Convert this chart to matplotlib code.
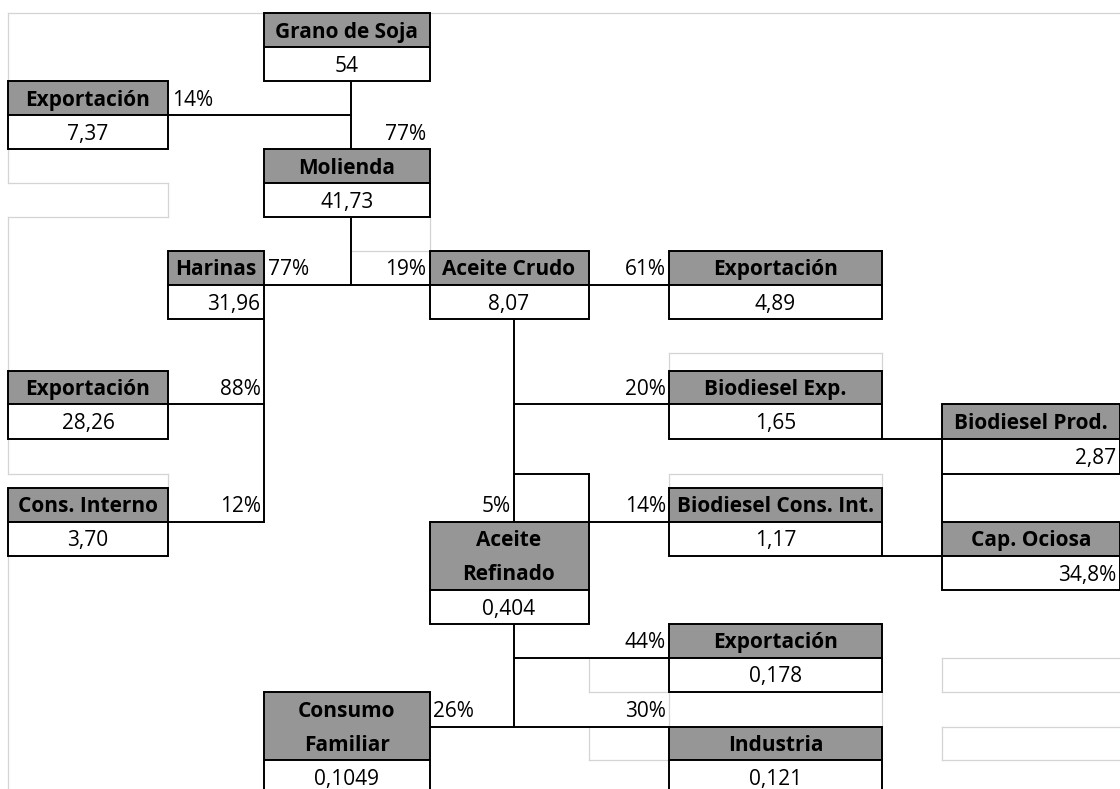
import matplotlib
matplotlib.use("Agg")
import matplotlib.pyplot as plt
from matplotlib.patches import Rectangle

plt.rcParams['font.family'] = ['Open Sans', 'DejaVu Sans']

# datos del diagrama (millones de toneladas)
node_labels = ["Grano de Soja", "Exportación", "Molienda", "Harinas", "Aceite Crudo",
               "Exportación", "Exportación", "Biodiesel Exp.", "Biodiesel Prod.",
               "Cons. Interno", "Biodiesel Cons. Int.", "Cap. Ociosa",
               "Aceite\nRefinado", "Exportación", "Consumo\nFamiliar", "Industria"]
node_values = ["54", "7,37", "41,73", "31,96", "8,07", "4,89", "28,26", "1,65", "2,87",
               "3,70", "1,17", "34,8%", "0,404", "0,178", "0,1049", "0,121"]
pct_labels = ["14%", "77%", "77%", "19%", "61%", "88%", "20%", "12%", "5%",
              "14%", "44%", "26%", "30%"]

# grilla tipo planilla (bordes de columnas y filas en pixeles)
col_x = [8, 168, 264, 351, 429.5, 514, 588.5, 669, 882, 942, 1120]
row_y = [12.7, 47.3, 80.7, 115.3, 149, 183.3, 217.3, 250.7, 285, 319.3, 353.3,
         370.7, 404, 438.5, 473.5, 487.5, 521.7, 556, 590, 624, 657.7, 691.7,
         726.7, 760, 794]

# (col ini, col fin, fila ini, filas de titulo, alineacion del valor)
node_cells = [(2, 4, 0, 1, 'center'), (0, 1, 2, 1, 'center'), (2, 4, 4, 1, 'center'),
              (1, 2, 7, 1, 'right'), (4, 6, 7, 1, 'center'), (7, 8, 7, 1, 'center'),
              (0, 1, 11, 1, 'center'), (7, 8, 11, 1, 'center'), (9, 10, 12, 1, 'right'),
              (0, 1, 15, 1, 'center'), (7, 8, 15, 1, 'center'), (9, 10, 16, 1, 'right'),
              (4, 6, 16, 2, 'center'), (7, 8, 19, 1, 'center'), (2, 4, 21, 2, 'center'),
              (7, 8, 22, 1, 'center')]
# (col, fila, alineacion)
pct_cells = [(1, 2, 'left'), (3, 3, 'right'), (2, 7, 'left'), (3, 7, 'right'),
             (6, 7, 'right'), (1, 11, 'right'), (6, 11, 'right'), (1, 15, 'right'),
             (4, 15, 'right'), (6, 15, 'right'), (6, 19, 'right'), (4, 21, 'left'),
             (6, 21, 'right')]

# conectores: ('v', col, fila0, fila1) o ('h', fila, col0, col1)
links = [('v', 3, 2, 4), ('h', 3, 1, 3), ('v', 3, 6, 8), ('h', 8, 2, 4), ('h', 8, 6, 7),
         ('v', 2, 9, 16), ('h', 12, 1, 2), ('h', 16, 1, 2), ('v', 5, 9, 16),
         ('h', 12, 5, 7), ('h', 14, 5, 6), ('v', 6, 14, 16), ('h', 16, 6, 7),
         ('h', 13, 8, 9), ('h', 17, 8, 9), ('v', 5, 19, 22), ('h', 20, 5, 7),
         ('h', 22, 4, 7), ('v', 9, 14, 16)]

# lineas de cuadricula que quedaron visibles
grid = [('h', 0, 0, 2), ('h', 0, 4, 10), ('v', 0, 0, 2), ('v', 0, 4, 5), ('h', 5, 0, 1),
        ('v', 1, 5, 6), ('h', 6, 0, 1), ('v', 0, 6, 11), ('v', 4, 6, 7), ('h', 7, 3, 4),
        ('v', 0, 13, 14), ('h', 14, 0, 1), ('v', 1, 14, 15), ('v', 0, 17, 24),
        ('h', 10, 7, 8), ('v', 7, 10, 11), ('v', 8, 10, 11), ('h', 14, 7, 8),
        ('v', 7, 14, 15), ('v', 8, 14, 15), ('v', 6, 20, 21), ('h', 21, 6, 7),
        ('v', 7, 21, 22), ('v', 8, 21, 22), ('v', 6, 22, 23), ('h', 23, 6, 7),
        ('h', 20, 9, 10), ('h', 21, 9, 10), ('v', 9, 20, 21),
        ('h', 22, 9, 10), ('h', 23, 9, 10), ('v', 9, 22, 23)]

HEAD = '#969696'
LIGHT = '#d4d4d4'
FS = 15
DY = 2  # el texto queda un poco por debajo del centro de la celda

fig = plt.figure(figsize=(11.2, 7.89), dpi=100)
ax = fig.add_axes([0, 0, 1, 1])
ax.set_xlim(0, 1120)
ax.set_ylim(789, 0)
ax.axis('off')


def draw_seg(s, color, lw, z):
    if s[0] == 'v':
        ax.plot([col_x[s[1]], col_x[s[1]]], [row_y[s[2]], row_y[s[3]]],
                color=color, lw=lw, zorder=z, solid_capstyle='projecting')
    else:
        ax.plot([col_x[s[2]], col_x[s[3]]], [row_y[s[1]], row_y[s[1]]],
                color=color, lw=lw, zorder=z, solid_capstyle='projecting')


for s in grid:
    draw_seg(s, LIGHT, 0.9, 1)
for s in links:
    draw_seg(s, 'black', 1.4, 3)

for lab, val, (c0, c1, r0, nh, al) in zip(node_labels, node_values, node_cells):
    x0, x1 = col_x[c0], col_x[c1]
    y0, y1, y2 = row_y[r0], row_y[r0 + nh], row_y[r0 + nh + 1]
    ax.add_patch(Rectangle((x0, y0), x1 - x0, y1 - y0, facecolor=HEAD,
                           edgecolor='black', lw=1.4, zorder=4))
    ax.add_patch(Rectangle((x0, y1), x1 - x0, y2 - y1, facecolor='white',
                           edgecolor='black', lw=1.4, zorder=4))
    for k, line in enumerate(lab.split('\n')):
        ym = (row_y[r0 + k] + row_y[r0 + k + 1]) / 2 + DY
        ax.text((x0 + x1) / 2, ym, line, ha='center', va='center',
                fontsize=FS, fontweight='bold', color='black', zorder=5)
    ym = (y1 + y2) / 2 + DY
    if al == 'right':
        ax.text(x1 - 4, ym, val, ha='right', va='center', fontsize=FS, zorder=5)
    else:
        ax.text((x0 + x1) / 2, ym, val, ha='center', va='center', fontsize=FS, zorder=5)

for txt, (c, r, al) in zip(pct_labels, pct_cells):
    ym = (row_y[r] + row_y[r + 1]) / 2 + DY
    if al == 'left':
        ax.text(col_x[c] + 4, ym, txt, ha='left', va='center', fontsize=FS, zorder=5)
    else:
        ax.text(col_x[c + 1] - 3, ym, txt, ha='right', va='center', fontsize=FS, zorder=5)

fig.savefig('out.png', dpi=100, facecolor='white')
